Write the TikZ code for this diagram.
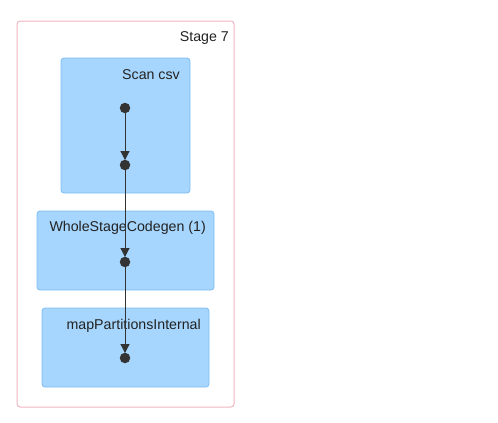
\documentclass[tikz,border=0pt]{standalone}
\usepackage{fontspec}
\setmainfont{Liberation Sans}
\usetikzlibrary{arrows.meta}
\definecolor{boxfill}{HTML}{A6D5FD}
\definecolor{boxedge}{HTML}{7EBCF2}
\definecolor{stageedge}{HTML}{EFB4C2}
\definecolor{ink}{HTML}{333333}
\definecolor{txt}{HTML}{222222}
\tikzset{
  stagebox/.style={draw=stageedge, line width=1pt, rounded corners=3pt},
  opbox/.style={draw=boxedge, fill=boxfill, line width=0.8pt, rounded corners=3pt},
  lbl/.style={anchor=east, text=txt, font=\fontsize{14.2}{16}\selectfont, inner sep=0pt},
  dot/.style={circle, fill=ink, minimum size=10.5pt, inner sep=0pt},
  flow/.style={draw=ink, line width=1pt, -{Triangle[length=9pt,width=9pt]}, shorten >=-0.5pt}
}
\begin{document}
\begin{tikzpicture}[x=1pt,y=-1pt]
\useasboundingbox (0,0) rectangle (498,423);
\draw[stagebox] (17,21) rectangle (234,407);
\node[lbl] (stage) at (229,38) {Stage 7};
\draw[opbox] (61,58) rectangle (190,193);
\node[lbl] (scanlbl) at (180,75) {Scan csv};
\draw[opbox] (37,211) rectangle (214,290);
\node[lbl] (wscglbl) at (206,228) {WholeStageCodegen (1)};
\draw[opbox] (42,308) rectangle (209,387);
\node[lbl] (mplbl) at (201,326) {mapPartitionsInternal};
\node[dot] (d1) at (125,108) {};
\node[dot] (d2) at (125,165) {};
\node[dot] (d3) at (125,262) {};
\node[dot] (d4) at (125,358) {};
\draw[flow] (d1.center) -- (d2.north);
\draw[flow] (d2.center) -- (d3.north);
\draw[flow] (d3.center) -- (d4.north);
\end{tikzpicture}
\end{document}
